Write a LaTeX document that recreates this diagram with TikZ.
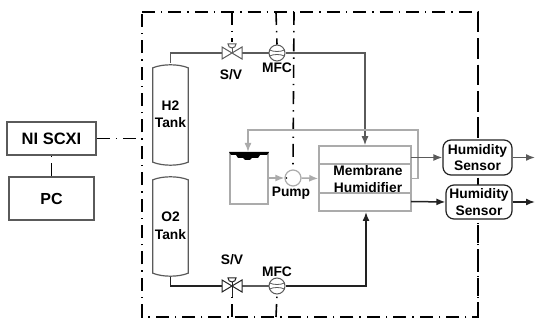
\documentclass[tikz,border=0pt]{standalone}
\usepackage{fontspec}
\setmainfont{Liberation Sans}
\usetikzlibrary{arrows.meta}
\definecolor{gline}{HTML}{ABABAB}
\definecolor{dline}{HTML}{5A5A5A}
\definecolor{kline}{HTML}{222222}
\tikzset{
  txt/.style={font=\fontsize{13.8}{15.5}\selectfont\bfseries,text=black,align=center,inner sep=0pt},
  ctrl/.style={line width=1.6pt,black,dash pattern=on 13pt off 6pt on 1.4pt off 6pt},
  grayp/.style={line width=1.5pt,gline},
  grayarr/.style={grayp,-{Latex[length=9pt,width=7pt]}},
  darkp/.style={line width=1.5pt,dline},
  darkarr/.style={darkp,-{Latex[length=9pt,width=7pt]}},
  blackp/.style={line width=1.5pt,kline},
  blackarr/.style={blackp,-{Latex[length=9pt,width=7pt]}},
  boxn/.style={draw=dline,line width=1.5pt,fill=white,inner sep=0pt},
  sensor/.style={draw=kline,line width=1.2pt,fill=white,rounded corners=8pt,txt},
  tankn/.style={minimum width=35pt,inner sep=0pt,txt},
  circn/.style={circle,draw=dline,line width=1pt,fill=white,minimum size=16pt,inner sep=0pt},
  valven/.style={minimum width=20pt,minimum height=16pt,inner sep=0pt},
}
\begin{document}
\begin{tikzpicture}[x=1pt,y=-1pt]
\useasboundingbox (0,0) rectangle (536,320);
% frame
\coordinate (fTL) at (142,12);
\coordinate (fTR) at (478,12);
\coordinate (fBR) at (478,317);
\coordinate (fBL) at (142,317);
\draw[ctrl] (fTL) -- (fTR) -- (fBR) -- (fBL) -- cycle;
% left boxes
\node[boxn,txt,font=\fontsize{16.5}{18}\selectfont\bfseries,minimum width=89pt,minimum height=33pt] (ni) at (51.5,138.5) {NI SCXI};
\node[boxn,txt,font=\fontsize{16}{18}\selectfont\bfseries,minimum width=85pt,minimum height=43pt] (pc) at (51.5,198.5) {PC};
\draw[ctrl] (pc.north) -- (ni.south);
\coordinate (fL) at (142,138.5);
\draw[ctrl] (ni.east) -- (fL);
% tanks
\node[tankn,minimum height=103pt] (h2) at (170.5,114.5) {H2\\[2pt]Tank};
\node[tankn,minimum height=102pt] (o2) at (170.5,226) {O2\\[2pt]Tank};
\draw[line width=1.2pt,dline] ([yshift=-5pt]h2.north west) .. controls ([xshift=10pt,yshift=-1pt]h2.north west) and ([xshift=-10pt,yshift=-1pt]h2.north east) .. ([yshift=-5pt]h2.north east) -- ([yshift=4pt]h2.south east) .. controls ([xshift=-10pt,yshift=0pt]h2.south east) and ([xshift=10pt,yshift=0pt]h2.south west) .. ([yshift=4pt]h2.south west) -- cycle;
\draw[line width=1.2pt,dline] ([yshift=-5pt]o2.north west) .. controls ([xshift=10pt,yshift=-1pt]o2.north west) and ([xshift=-10pt,yshift=-1pt]o2.north east) .. ([yshift=-5pt]o2.north east) -- ([yshift=4pt]o2.south east) .. controls ([xshift=-10pt,yshift=0pt]o2.south east) and ([xshift=10pt,yshift=0pt]o2.south west) .. ([yshift=4pt]o2.south west) -- cycle;
% membrane
\node[draw=gline,line width=1.5pt,fill=white,minimum width=92pt,minimum height=65pt,inner sep=0pt] (mem) at (365,178.5) {};
\draw[grayp] (319,164) -- (411,164) (319,193) -- (411,193);
\node[txt] (memt) at (368,179) {Membrane\\[1pt]Humidifier};
% valves / meters
\node[valven] (sv1) at (232,53) {};
\node[valven] (sv2) at (232,286) {};
\node[circn] (mfc1) at (277,53) {};
\node[circn] (mfc2) at (277,286) {};
% pipes
\draw[darkp] (h2.north) -- (170.5,53) -- (sv1.west);
\draw[darkp] (sv1.east) -- (mfc1.west);
\draw[darkarr] (mfc1.east) -- (365,53) -- (mem.north -| 365,146);
\draw[blackp] (o2.south) -- (170.5,286) -- (sv2.west);
\draw[darkp] (sv2.east) -- (mfc2.west);
\draw[blackarr] (mfc2.east) -- (366,286) -- (366,212);
% valve symbols
\draw[line width=1pt,dline,fill=white] (222,47) -- (242,59) -- (242,47) -- (222,59) -- cycle;
\draw[line width=1pt,dline,fill=white] (232,53) -- (232,44);
\draw[line width=1pt,dline,fill=white] (228,44) arc[start angle=180,end angle=0,radius=4] -- cycle;
\draw[line width=1pt,kline,fill=white] (222,280) -- (242,292) -- (242,280) -- (222,292) -- cycle;
\draw[line width=1pt,kline] (232,286) -- (232,279);
\draw[line width=1pt,kline,fill=white] (228,278) arc[start angle=180,end angle=0,radius=4] -- cycle;
\draw[line width=1pt,kline] (232,286) -- (232,297);
% meter arcs
\foreach \m in {mfc1,mfc2}{
  \draw[line width=.8pt,dline] ([shift={(-7.5,-3)}]\m.center) .. controls ([shift={(-3,-1)}]\m.center) and ([shift={(3,-1)}]\m.center) .. ([shift={(7.5,-3)}]\m.center);
  \draw[line width=.8pt,dline] ([shift={(-7.5,3)}]\m.center) .. controls ([shift={(-3,1)}]\m.center) and ([shift={(3,1)}]\m.center) .. ([shift={(7.5,3)}]\m.center);
}
% control lines
\coordinate (t1) at (232,12); \coordinate (t2) at (276,12); \coordinate (t3) at (294,12);
\coordinate (b1) at (232,317); \coordinate (b2) at (276,317);
\draw[ctrl] (t1) -- (232,42);
\draw[ctrl] (t2) -- (mfc1.north);
\draw[ctrl] (b1) -- (232,297);
\draw[ctrl] (b2) -- (mfc2.south);
% water tank and pump
\coordinate (wTL) at (230,152);
\draw[grayp] (230,152) -- (230,204) -- (268,204) -- (268,152);
\fill[black] (229,152) -- (269,152) -- (267,155) -- (260,155) -- (258,158) -- (252,158) -- (250,160) -- (245,160) -- (243,158) -- (238,158) -- (236,155) -- (231,155) -- cycle;
\node[circle,draw=gline,line width=1.2pt,fill=white,minimum size=16pt,inner sep=0pt] (pump) at (293,178) {};
\draw[ctrl] (t3) -- (pump.north);
\fill[black] (286.5,178) circle (.8pt);
\coordinate (wtout) at (268,178);
\draw[grayarr] (wtout) -- (pump.west);
\draw[grayarr] (pump.east) -- (mem.west);
\draw[grayarr] (mem.east) -- (418,178.5) -- (418,130) -- (248,130) -- (wTL -| 248,152);
% sensors
\node[sensor,minimum width=69pt,minimum height=35pt] (hs1) at (477.5,157.5) {Humidity\\[1pt]Sensor};
\node[sensor,minimum width=66pt,minimum height=34pt] (hs2) at (479,202) {Humidity\\[1pt]Sensor};
\coordinate (a1) at (411,157.5); \coordinate (a2) at (411,201.5);
\coordinate (o1) at (535,157.5); \coordinate (o2e) at (535,202);
\draw[darkarr] (a1) -- (hs1.west);
\draw[blackarr] (a2) -- (hs2.west);
\draw[darkarr] (hs1.east) -- (o1);
\draw[blackarr] (hs2.east) -- (o2e);
\draw[ctrl] (478,12) -- (hs1.north -| 478,140);
\draw[ctrl] (478,317) -- (hs2.south -| 478,219);
% labels
\node[txt] (lsv1) at (231,75) {S/V};
\node[txt] (lmfc1) at (277,68) {MFC};
\node[txt] (lpump) at (291,193.5) {Pump};
\node[txt] (lsv2) at (232,260) {S/V};
\node[txt] (lmfc2) at (277,272) {MFC};
\end{tikzpicture}
\end{document}
